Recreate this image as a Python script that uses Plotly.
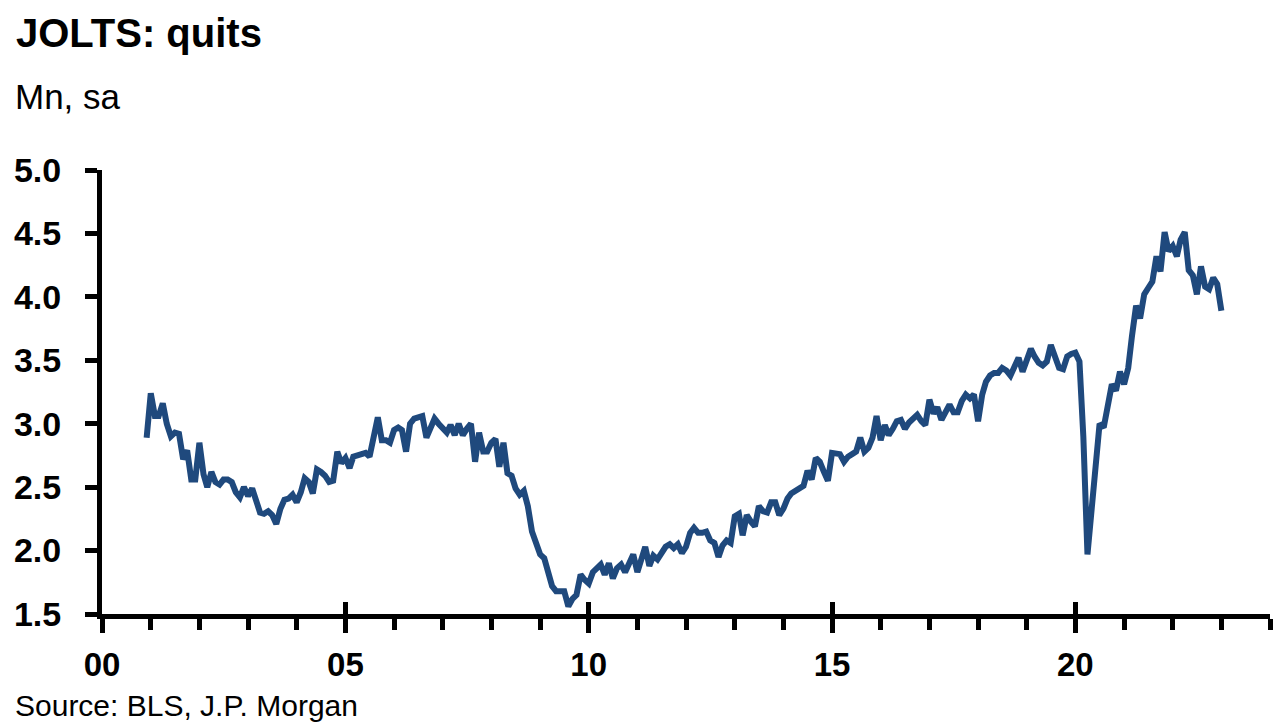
import pandas as pd
import plotly.graph_objects as go

# JOLTS quits, millions, SA, monthly from Dec 2000 to Jan 2023
start_month = "2000-12-01"
quits = [
    2.89, 3.24, 3.06, 3.06, 3.16, 3.00, 2.90, 2.93, 2.92, 2.72, 2.79, 2.56,
    2.56, 2.85, 2.60, 2.50, 2.62, 2.54, 2.52, 2.56, 2.56, 2.54, 2.46, 2.42,
    2.50, 2.43, 2.49, 2.41, 2.30, 2.29, 2.31, 2.28, 2.21, 2.33, 2.40, 2.41,
    2.44, 2.38, 2.46, 2.57, 2.54, 2.45, 2.64, 2.62, 2.59, 2.54, 2.55, 2.78,
    2.69, 2.73, 2.65, 2.74, 2.75, 2.76, 2.77, 2.74, 2.92, 3.05, 2.87, 2.87,
    2.85, 2.95, 2.97, 2.95, 2.78, 3.00, 3.04, 3.05, 3.06, 2.89, 2.96, 3.04,
    3.00, 2.96, 2.93, 2.99, 2.91, 3.00, 2.91, 2.96, 3.00, 2.70, 2.93, 2.78,
    2.78, 2.85, 2.88, 2.66, 2.85, 2.61, 2.59, 2.49, 2.44, 2.47, 2.35, 2.15,
    2.06, 1.97, 1.94, 1.83, 1.72, 1.68, 1.68, 1.68, 1.56, 1.62, 1.65, 1.81,
    1.77, 1.74, 1.83, 1.86, 1.89, 1.81, 1.90, 1.78, 1.86, 1.89, 1.83, 1.90,
    1.97, 1.83, 1.95, 2.03, 1.88, 1.96, 1.93, 1.98, 2.03, 2.05, 2.02, 2.05,
    1.98, 2.03, 2.14, 2.18, 2.14, 2.14, 2.15, 2.08, 2.06, 1.95, 2.04, 2.08,
    2.06, 2.27, 2.29, 2.12, 2.28, 2.23, 2.19, 2.35, 2.31, 2.30, 2.38, 2.38,
    2.28, 2.33, 2.41, 2.45, 2.47, 2.48, 2.51, 2.63, 2.56, 2.73, 2.70, 2.62,
    2.55, 2.77, 2.76, 2.76, 2.70, 2.74, 2.76, 2.78, 2.89, 2.78, 2.81, 2.89,
    3.06, 2.87, 2.99, 2.91, 2.96, 3.02, 3.03, 2.96, 3.01, 3.05, 3.07, 3.02,
    2.99, 3.19, 3.08, 3.13, 3.03, 3.09, 3.15, 3.09, 3.09, 3.18, 3.23, 3.20,
    3.23, 3.02, 3.23, 3.33, 3.38, 3.40, 3.40, 3.44, 3.42, 3.38, 3.45, 3.52,
    3.41, 3.50, 3.59, 3.53, 3.48, 3.46, 3.49, 3.62, 3.53, 3.44, 3.43, 3.53,
    3.55, 3.56, 3.49, 2.90, 1.97, 2.35, 2.64, 3.00, 2.97, 3.16, 3.31, 3.26,
    3.41, 3.31, 3.44, 3.69, 3.93, 3.83, 4.02, 4.07, 4.12, 4.32, 4.20, 4.51,
    4.36, 4.40, 4.32, 4.45, 4.51, 4.21, 4.17, 4.02, 4.24, 4.08, 4.06, 4.15,
    4.10, 3.89,
]
dates = pd.date_range(start_month, periods=len(quits), freq="MS")

x_tick_years = [2000, 2005, 2010, 2015, 2020]
x_tick_labels = ["00", "05", "10", "15", "20"]
y_ticks = [1.5, 2.0, 2.5, 3.0, 3.5, 4.0, 4.5, 5.0]

FONT = "Liberation Sans, Arial, sans-serif"
LINE_COLOR = "#1f497d"
x_range = ["2000-01-01", "2024-01-01"]
x_tickvals = [f"{y}-01-01" for y in x_tick_years]

fig = go.Figure()
fig.add_trace(go.Scatter(
    x=dates, y=quits, mode="lines",
    line=dict(color=LINE_COLOR, width=6),
    showlegend=False, hoverinfo="skip",
))
# empty trace to activate overlay axis for inside part of major ticks
fig.add_trace(go.Scatter(x=[], y=[], xaxis="x2", showlegend=False))

fig.update_layout(
    width=1269, height=719,
    margin=dict(l=94, r=7, t=162, b=113),
    paper_bgcolor="white", plot_bgcolor="white",
    font=dict(family=FONT, color="black"),
    xaxis=dict(
        type="date", range=x_range,
        tickvals=x_tickvals, ticktext=x_tick_labels,
        ticks="outside", ticklen=14, tickwidth=5, tickcolor="black",
        tickfont=dict(family=FONT, size=33, color="black", weight="bold"),
        showline=True, linecolor="black", linewidth=5,
        showgrid=False, zeroline=False,
        ticklabelstandoff=3,
        minor=dict(dtick="M12", tick0="2000-01-01", ticks="outside",
                   ticklen=11, tickwidth=5, tickcolor="black", showgrid=False),
    ),
    xaxis2=dict(
        type="date", range=x_range, overlaying="x", anchor="y", side="bottom",
        tickvals=x_tickvals, ticks="inside", ticklen=12, tickwidth=5,
        tickcolor="black", showticklabels=False, showline=False,
        showgrid=False, zeroline=False,
    ),
    yaxis=dict(
        range=[1.5, 5.0], tickvals=y_ticks, tickformat=".1f",
        ticks="outside", ticklen=12, tickwidth=5, tickcolor="black",
        tickfont=dict(family=FONT, size=34, color="black", weight="bold"),
        showline=True, linecolor="black", linewidth=5,
        showgrid=False, zeroline=False,
        ticklabelstandoff=17,
    ),
    annotations=[
        dict(text="<b>JOLTS: quits</b>", xref="paper", yref="paper",
             x=-0.0753, y=1.308, xanchor="left", yanchor="middle",
             showarrow=False, font=dict(family=FONT, size=40, color="black")),
        dict(text="Mn, sa", xref="paper", yref="paper",
             x=-0.0762, y=1.166, xanchor="left", yanchor="middle",
             showarrow=False, font=dict(family=FONT, size=35, color="black")),
        dict(text="Source: BLS, J.P. Morgan", xref="paper", yref="paper",
             x=-0.0765, y=-0.207, xanchor="left", yanchor="middle",
             showarrow=False, font=dict(family=FONT, size=30, color="black")),
    ],
)

fig.write_html("out.html")
